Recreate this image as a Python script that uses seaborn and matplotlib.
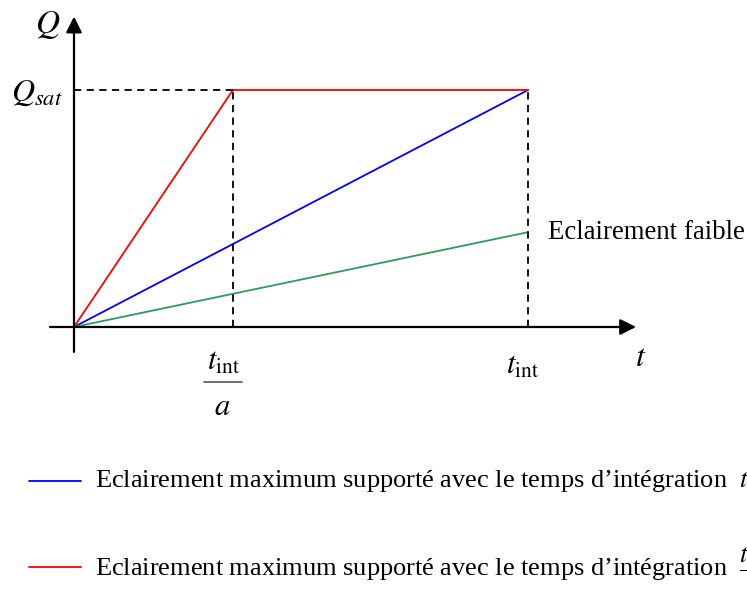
import matplotlib
matplotlib.use("Agg")
import matplotlib.pyplot as plt
import seaborn as sns
import pandas as pd

sns.set_theme(style="white")
plt.rcParams["font.family"] = ["Liberation Serif", "DejaVu Serif"]
plt.rcParams["mathtext.fontset"] = "stix"
plt.rcParams["text.color"] = "black"

# Time positions (t_int normalised to 1) and charge levels (Q_sat normalised to 1)
t_short = 0.35          # t_int / a
t_int = 1.0
q_sat = 1.0

blue_t = [0.0, t_int]
blue_q = [0.0, q_sat]
red_t = [0.0, t_short, t_int]
red_q = [0.0, q_sat, q_sat]
green_t = [0.0, t_int]
green_q = [0.0, 0.40]

legend_labels = [
    r"Eclairement maximum supporté avec le temps d’intégration  $t_{\mathrm{int}}$",
    r"Eclairement maximum supporté avec le temps d’intégration  $\dfrac{t_{\mathrm{int}}}{a}$",
]

df = pd.concat([
    pd.DataFrame({"t": blue_t, "Q": blue_q, "serie": "bleu"}),
    pd.DataFrame({"t": red_t, "Q": red_q, "serie": "rouge"}),
    pd.DataFrame({"t": green_t, "Q": green_q, "serie": "vert"}),
])

fig = plt.figure(figsize=(7.47, 5.98), dpi=100)
ax = fig.add_axes([0, 0, 1, 1])
ax.set_xlim(-0.163, 1.4824)
ax.set_ylim(-1.1435, 1.3797)
ax.axis("off")

palette = {"bleu": "#0000ff", "rouge": "#ff0000", "vert": "#2e9a5e"}
sns.lineplot(data=df, x="t", y="Q", hue="serie", palette=palette,
             linewidth=1.3, legend=False, ax=ax, estimator=None, sort=False)

# dashed guides
dash = dict(color="black", lw=1.3, ls=(0, (4, 3)))
ax.plot([0, t_short], [q_sat, q_sat], **dash)
ax.plot([t_short, t_short], [0, q_sat], **dash)
ax.plot([t_int, t_int], [0, q_sat], **dash)

# axes with arrows
arrow = dict(arrowstyle="-|>,head_length=0.6,head_width=0.3", lw=1.6,
             color="black", mutation_scale=16, shrinkA=0, shrinkB=0)
ax.annotate("", xy=(1.238, 0), xytext=(-0.053, 0), arrowprops=arrow)
ax.annotate("", xy=(0, 1.31), xytext=(0, -0.105), arrowprops=arrow)

# axis labels
ax.text(-0.059, 1.275, r"$Q$", fontsize=24, ha="center", va="center")
ax.text(-0.025, 0.985, r"$Q_{sat}$", fontsize=23, ha="right", va="center")
ax.text(1.249, -0.135, r"$t$", fontsize=23, ha="center", va="center")
ax.text(0.987, -0.165, r"$t_{\mathrm{int}}$", fontsize=22, ha="center", va="center")

# t_int / a written as a stacked fraction
ax.text(0.33, -0.15, r"$t_{\mathrm{int}}$", fontsize=22, ha="center", va="center")
ax.plot([0.286, 0.370], [-0.232, -0.232], color="#555555", lw=1.2)
ax.text(0.326, -0.34, r"$a$", fontsize=22, ha="center", va="center")

ax.text(1.045, 0.40, "Eclairement faible", fontsize=19.3, ha="left", va="center")

# legend drawn as line samples + text
for y, col, lab in [(-0.649, "#0000ff", legend_labels[0]),
                    (-1.013, "#ff0000", legend_labels[1])]:
    ax.plot([-0.099, 0.015], [y, y], color=col, lw=1.3)
    ax.text(0.046, y, lab, fontsize=19, ha="left", va="center")

fig.savefig("out.png", dpi=100)
